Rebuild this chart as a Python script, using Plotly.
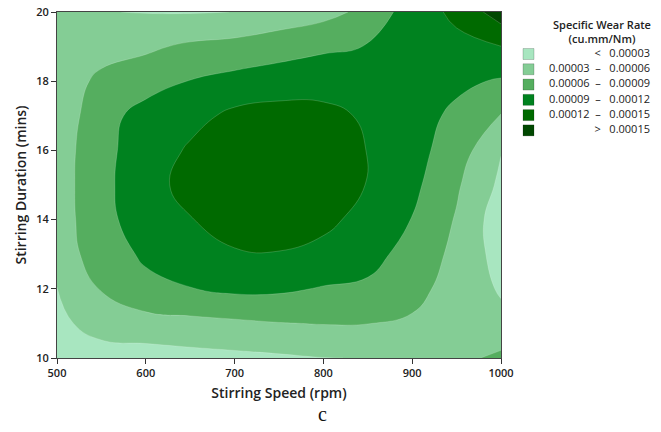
import numpy as np
import plotly.graph_objects as go

# Process parameters (grid of the response surface)
stirring_speed_rpm = [500, 550, 600, 650, 700, 750, 800, 850, 900, 950, 1000]
stirring_duration_min = [10, 11, 12, 13, 14, 15, 16, 17, 18, 19, 20]

# Specific wear rate in units of 1e-5 cu.mm/Nm, one row per stirring duration (10 -> 20 min)
wear_rate_e5 = [
    [1.5, 1.7, 1.7, 2.0, 2.3, 2.6, 2.96, 3.05, 4.0, 5.2, 6.68],
    [2.3, 4.2, 4.8, 5.2, 5.5, 5.9, 6.1, 6.05, 5.5, 4.4, 3.6],
    [2.95, 6.19, 8.4, 8.9, 9.61, 9.5, 8.79, 8.5, 7.2, 4.47, 2.76],
    [4.0, 7.85, 9.36, 11.0, 11.8, 11.9, 11.3, 10.0, 7.92, 5.25, 1.84],
    [4.5, 8.07, 10.52, 11.9, 12.9, 13.0, 12.6, 11.17, 8.91, 5.75, 1.31],
    [4.6, 8.1, 11.07, 12.8, 13.8, 14.0, 13.5, 11.9, 9.73, 6.4, 2.4],
    [4.3, 8.35, 10.15, 12.41, 13.4, 13.8, 13.6, 11.93, 10.0, 7.62, 3.12],
    [4.1, 7.8, 10.2, 11.0, 12.7, 13.2, 13.0, 11.5, 10.2, 8.4, 5.85],
    [3.9, 6.8, 7.7, 9.1, 9.9, 10.4, 10.5, 10.4, 10.0, 9.6, 8.7],
    [3.7, 4.6, 5.5, 6.5, 7.0, 7.8, 8.6, 9.1, 10.5, 11.3, 11.95],
    [3.4, 3.08, 2.9, 2.85, 3.02, 4.0, 5.0, 6.8, 10.6, 12.6, 16.6],
]

# Contour band edges (cu.mm/Nm) and the fill colour of each band
band_edges = [0.00003, 0.00006, 0.00009, 0.00012, 0.00015]
band_colors = ["#a8e6c0", "#84cd95", "#55ae5f", "#00821f", "#006a00", "#004800"]

scale = 1e5
z = np.array(wear_rate_e5, dtype=float)
edges_scaled = [round(e * scale, 6) for e in band_edges]
step = edges_scaled[1] - edges_scaled[0]

n = len(band_colors)
colorscale = [[i / (n - 1), c] for i, c in enumerate(band_colors)]

FONT = "Open Sans, Noto Sans, sans-serif"

fig = go.Figure()
fig.add_trace(go.Contour(
    x=stirring_speed_rpm,
    y=stirring_duration_min,
    z=z,
    colorscale=colorscale,
    showscale=False,
    contours=dict(start=edges_scaled[0], end=edges_scaled[-1], size=step,
                  coloring="fill", showlines=True),
    line=dict(width=0.7, color="rgba(255,255,255,0.25)", smoothing=1.3),
    hoverinfo="skip",
    showlegend=False,
))

# Key: one square swatch per band with its range, on a small helper axis
NB = "\u00a0"


def fmt(v):
    return f"{v:.5f}"


labels = [f"<{NB}{NB}{NB}{fmt(band_edges[0])}"]
for lo, hi in zip(band_edges[:-1], band_edges[1:]):
    labels.append(f"{fmt(lo)}{NB}{NB}\u2013{NB}{NB}{NB}{fmt(hi)}")
labels.append(f">{NB}{NB}{NB}{fmt(band_edges[-1])}")
rows = list(range(len(labels)))

fig.add_trace(go.Scatter(
    x=[16.5] * len(rows), y=rows, mode="markers",
    marker=dict(symbol="square", size=11, color=band_colors,
                line=dict(width=0.6, color="rgba(0,0,0,0.3)")),
    xaxis="x2", yaxis="y2", hoverinfo="skip", showlegend=False,
))
fig.add_trace(go.Scatter(
    x=[138] * len(rows), y=rows, mode="text", text=labels,
    textposition="middle left",
    textfont=dict(family=FONT, size=11, color="#222"),
    xaxis="x2", yaxis="y2", hoverinfo="skip", showlegend=False,
))

tick_font = dict(family=FONT, size=11, color="#222", weight=600)
title_font = dict(family=FONT, size=14, color="#222", weight=600)

plot_w = 661 - 57 - 5
main_right = 444 / plot_w

fig.update_layout(
    width=661, height=432,
    margin=dict(l=57, r=5, t=12, b=74, autoexpand=False),
    paper_bgcolor="white",
    plot_bgcolor="white",
    font=dict(family=FONT, color="#222"),
    xaxis=dict(
        domain=[0, main_right], automargin=False,
        range=[500, 1000], tickvals=[500, 600, 700, 800, 900, 1000],
        ticks="outside", ticklen=5, tickwidth=1, tickcolor="#333",
        showline=True, linecolor="#444", linewidth=1, mirror=True,
        showgrid=False, zeroline=False, tickfont=tick_font,
        title=dict(text="Stirring Speed (rpm)", font=title_font, standoff=8),
    ),
    yaxis=dict(
        range=[10, 20], tickvals=[10, 12, 14, 16, 18, 20], automargin=False,
        ticks="outside", ticklen=5, tickwidth=1, tickcolor="#333",
        showline=True, linecolor="#444", linewidth=1, mirror=True,
        showgrid=False, zeroline=False, tickfont=tick_font,
        title=dict(text="Stirring Duration (mins)", font=title_font, standoff=6),
    ),
    xaxis2=dict(domain=[(512 - 57) / plot_w, 1.0], range=[0, 144], visible=False,
                fixedrange=True, automargin=False),
    yaxis2=dict(domain=[0, 1], range=[19.9, -2.75], visible=False, anchor="x2",
                fixedrange=True, automargin=False),
    annotations=[
        dict(text="Specific Wear Rate<br>(cu.mm/Nm)", x=(602 - 57) / plot_w,
             y=(358 - 31.5) / 346, xref="paper", yref="paper",
             xanchor="center", yanchor="middle", align="center", showarrow=False,
             font=dict(family=FONT, size=11, color="#222", weight=600)),
        dict(text="c", x=(322 - 57) / plot_w, y=(358 - 414) / 346,
             xref="paper", yref="paper", xanchor="center", yanchor="middle",
             showarrow=False,
             font=dict(family="Liberation Serif, serif", size=20, color="#111")),
    ],
)

fig.write_html("out.html")
